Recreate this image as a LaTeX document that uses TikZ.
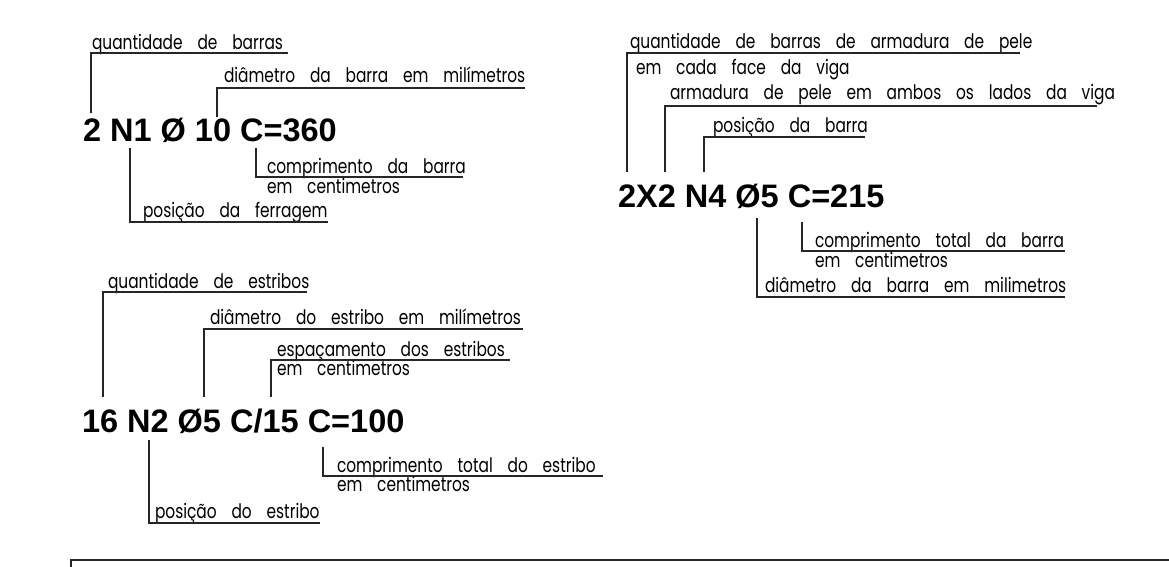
\documentclass[tikz,border=0pt]{standalone}
\usepackage{fontspec}
\newfontfamily\lblfamily[FakeStretch=0.77, WordSpace=3.6]{Poppins}
\newfontfamily\codefamily{Liberation Sans}
\tikzset{
  lbl/.style={font={\lblfamily\fontsize{20pt}{22pt}\selectfont}, anchor=base west, inner sep=0pt, outer sep=0pt},
  codetxt/.style={font={\codefamily\bfseries\fontsize{32.5pt}{36pt}\selectfont}, anchor=base west, inner sep=0pt, outer sep=0pt},
  ldr/.style={line width=1.3pt, draw=black!85}
}
\begin{document}
\begin{tikzpicture}[x=1pt,y=-1pt]
\useasboundingbox (0,0) rectangle (1169,567);
% ---------- group 1 ----------
\node[codetxt] (c1) at (83,141) {2 N1 Ø 10 C=360};
\node[lbl] (a1) at (92,50) {quantidade de barras};
\node[lbl] (a2) at (224,83) {diâmetro da barra em milímetros};
\node[lbl] (a3) at (267,173) {comprimento da barra};
\node[lbl] (a3b) at (267,193) {em centimetros};
\node[lbl] (a4) at (143,217) {posição da ferragem};
\coordinate (p1s) at (91,113);  \coordinate (p1e) at (288,53);
\coordinate (p2s) at (217,117); \coordinate (p2e) at (525,88);
\coordinate (p3s) at (256,148); \coordinate (p3e) at (463,177);
\coordinate (p4s) at (130,148); \coordinate (p4e) at (328,222);
\draw[ldr] (p1s) |- (p1e);
\draw[ldr] (p2s) |- (p2e);
\draw[ldr] (p3s) |- (p3e);
\draw[ldr] (p4s) |- (p4e);
% ---------- group 2 ----------
\node[codetxt] (c2) at (618,207) {2X2 N4 Ø5 C=215};
\node[lbl] (b1) at (630,49) {quantidade de barras de armadura de pele};
\node[lbl] (b1b) at (636,75) {em cada face da viga};
\node[lbl] (b2) at (670,100) {armadura de pele em ambos os lados da viga};
\node[lbl] (b3) at (713,132) {posição da barra};
\node[lbl] (b4) at (815,247) {comprimento total da barra};
\node[lbl] (b4b) at (815,267) {em centimetros};
\node[lbl] (b5) at (765,292) {diâmetro da barra em milimetros};
\coordinate (q1s) at (627,172); \coordinate (q1e) at (1020,53);
\coordinate (q2s) at (665,172); \coordinate (q2e) at (1097,106);
\coordinate (q3s) at (704,172); \coordinate (q3e) at (865,137);
\coordinate (q4s) at (802,222); \coordinate (q4e) at (1065,251);
\coordinate (q5s) at (757,218); \coordinate (q5e) at (1065,297);
\draw[ldr] (q1s) |- (q1e);
\draw[ldr] (q2s) |- (q2e);
\draw[ldr] (q3s) |- (q3e);
\draw[ldr] (q4s) |- (q4e);
\draw[ldr] (q5s) |- (q5e);
% ---------- group 3 ----------
\node[codetxt] (c3) at (82,432) {16 N2 Ø5 C/15 C=100};
\node[lbl] (d1) at (108,288) {quantidade de estribos};
\node[lbl] (d2) at (210,324) {diâmetro do estribo em milímetros};
\node[lbl] (d3) at (277,356) {espaçamento dos estribos};
\node[lbl] (d3b) at (277,375) {em centimetros};
\node[lbl] (d4) at (337,472) {comprimento total do estribo};
\node[lbl] (d4b) at (337,491) {em centimetros};
\node[lbl] (d5) at (155,518) {posição do estribo};
\coordinate (r1s) at (103,397); \coordinate (r1e) at (307,292);
\coordinate (r2s) at (204,397); \coordinate (r2e) at (523,329);
\coordinate (r3s) at (271,397); \coordinate (r3e) at (510,360);
\coordinate (r4s) at (323,447); \coordinate (r4e) at (603,476);
\coordinate (r5s) at (149,440); \coordinate (r5e) at (320,523);
\draw[ldr] (r1s) |- (r1e);
\draw[ldr] (r2s) |- (r2e);
\draw[ldr] (r3s) |- (r3e);
\draw[ldr] (r4s) |- (r4e);
\draw[ldr] (r5s) |- (r5e);
% ---------- frame at bottom ----------
\coordinate (f1) at (71,567); \coordinate (f2) at (1169,560);
\draw[ldr] (f1) |- (f2);
\end{tikzpicture}
\end{document}
